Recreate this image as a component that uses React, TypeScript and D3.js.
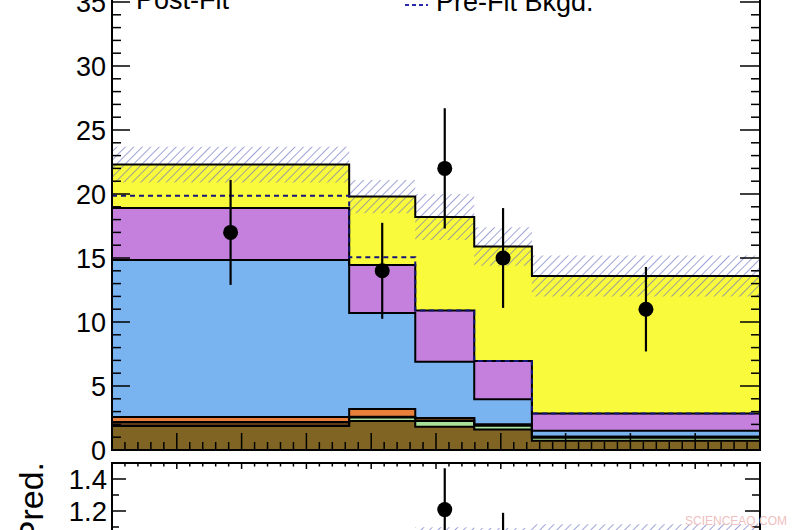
import React from 'react';
import * as d3 from 'd3';

// ---- data ----
const binEdges = [0, 3.66, 4.68, 5.59, 6.48, 10];
const brown = [1.88, 2.27, 1.82, 1.6, 0.73];
const green = [0.0, 0.26, 0.45, 0.3, 0.23];
const darkBrown = [0.31, 0.07, 0.23, 0.1, 0.08];
const orange = [0.39, 0.6, 0.0, 0.0, 0.0];
const blue = [12.26, 7.5, 4.4, 1.96, 0.47];
const purple = [4.06, 3.75, 4.0, 3.0, 1.34];
const yellow = [3.4, 5.35, 7.3, 8.94, 10.75];
const bkgUnc = [1.4, 1.3, 1.8, 1.5, 1.6];
const preFitBkg = [19.87, 15.05, 10.9, 6.96, 2.85];
const dataCounts = [17, 14, 22, 15, 11];
const dataErr = [4.1, 3.75, 4.7, 3.9, 3.3];
const yTicks = [0, 5, 10, 15, 20, 25, 30, 35];
const ratioTickLabels = ['1.4', '1.2'];

const layerKeys = ['brown', 'green', 'darkBrown', 'orange', 'blue', 'purple', 'yellow'];
const layerValues: Record<string, number[]> = { brown, green, darkBrown, orange, blue, purple, yellow };
const layerColors: Record<string, string> = {
  brown: '#806424',
  green: '#a8e29a',
  darkBrown: '#5a3a18',
  orange: '#e8803c',
  blue: '#7ab4f0',
  purple: '#c480dc',
  yellow: '#fafa3c',
};

const FONT = '"Liberation Sans", Arial, Helvetica, sans-serif';

export default function App() {
  const W = 800;
  const H = 530;
  const x = d3.scaleLinear().domain([0, 10]).range([112, 760]);
  const y = d3.scaleLinear().domain([0, 35]).range([450, 2]);
  const yr = d3.scaleLinear().domain([0.5, 1.5]).range([623, 463]);
  const nb = dataCounts.length;

  const rows = d3.range(nb).map((i) => {
    const r: Record<string, number> = {};
    layerKeys.forEach((k) => (r[k] = layerValues[k][i]));
    return r;
  });
  const stacked = d3.stack<Record<string, number>>().keys(layerKeys)(rows);
  const total = d3.range(nb).map((i) => stacked[stacked.length - 1][i][1]);

  const line = d3.line<[number, number]>();
  const stepPts = (vals: number[], ys: (v: number) => number) =>
    vals.flatMap((v, i) => [
      [x(binEdges[i]), ys(v)] as [number, number],
      [x(binEdges[i + 1]), ys(v)] as [number, number],
    ]);
  const stepPath = (vals: number[], ys: (v: number) => number) => line(stepPts(vals, ys)) || '';
  const areaPath = (lo: number[], hi: number[], ys: (v: number) => number) =>
    (line([...stepPts(hi, ys), ...stepPts(lo, ys).reverse()]) || '') + 'Z';

  const xMajor = d3.range(0, 10.001, 1);
  const xMinor = d3.range(0, 10.001, 0.2).filter((v) => Math.abs(v - Math.round(v)) > 1e-6);
  const yMinor = d3.range(0, 36.001, 1).filter((v) => v % 5 !== 0);
  const rMajor = [1.4, 1.2, 1.0];
  const rMinor = [1.5, 1.3, 1.1];

  const frameTop = y(38);
  const hiMain = total.map((t, i) => t + bkgUnc[i]);
  const loMain = total.map((t, i) => t - bkgUnc[i]);
  const hiRatio = total.map((t, i) => 1 + bkgUnc[i] / t);
  const loRatio = total.map((t, i) => 1 - bkgUnc[i] / t);

  return (
    <svg
      width={W}
      height={H}
      viewBox={`0 0 ${W} ${H}`}
      style={{ position: 'absolute', left: 0, top: 0, background: '#fff' }}
      fontFamily={FONT}
    >
      <defs>
        <pattern id="hatch" patternUnits="userSpaceOnUse" width="6" height="6" patternTransform="rotate(45)">
          <line x1="0" y1="-1" x2="0" y2="7" stroke="#6870c0" strokeWidth="1.5" strokeOpacity="0.85" />
        </pattern>
        <clipPath id="mainClip">
          <rect x={x(0)} y={frameTop} width={x(10) - x(0)} height={y(0) - frameTop} />
        </clipPath>
        <clipPath id="ratioClip">
          <rect x={x(0)} y={yr(1.5)} width={x(10) - x(0)} height={yr(0.5) - yr(1.5)} />
        </clipPath>
      </defs>
      <rect x={0} y={0} width={W} height={H} fill="#fff" />

      {/* ---------- main panel ---------- */}
      <g clipPath="url(#mainClip)">
        {stacked.map((layer) => (
          <path
            key={'f' + layer.key}
            d={areaPath(layer.map((d) => d[0]), layer.map((d) => d[1]), y)}
            fill={layerColors[layer.key]}
          />
        ))}
        {/* uncertainty hatch */}
        <path d={areaPath(loMain, hiMain, y)} fill="url(#hatch)" />
        {/* stack outlines */}
        {stacked.map((layer) => (
          <path
            key={'o' + layer.key}
            d={stepPath(layer.map((d) => d[1]), y)}
            fill="none"
            stroke="#000"
            strokeWidth={2}
          />
        ))}
        {/* pre-fit background */}
        <path d={stepPath(preFitBkg, y)} fill="none" stroke="#16167a" strokeWidth={2} strokeDasharray="5,4" />
        {/* data */}
        {dataCounts.map((n, i) => {
          const cx = x((binEdges[i] + binEdges[i + 1]) / 2);
          return (
            <g key={'d' + i}>
              <line x1={cx} x2={cx} y1={y(n + dataErr[i])} y2={y(n - dataErr[i])} stroke="#000" strokeWidth={2.2} />
              <circle cx={cx} cy={y(n)} r={7.5} fill="#000" />
            </g>
          );
        })}
      </g>
      {/* main axes ticks */}
      {xMajor.map((v) => (
        <line key={'xm' + v} x1={x(v)} x2={x(v)} y1={y(0)} y2={y(0) - 17} stroke="#000" strokeWidth={1.5} />
      ))}
      {xMinor.map((v) => (
        <line key={'xn' + v} x1={x(v)} x2={x(v)} y1={y(0)} y2={y(0) - 8} stroke="#000" strokeWidth={1.5} />
      ))}
      {yTicks.map((v) => (
        <g key={'ym' + v}>
          <line x1={x(0)} x2={x(0) + 18} y1={y(v)} y2={y(v)} stroke="#000" strokeWidth={1.5} />
          <line x1={x(10)} x2={x(10) - 20} y1={y(v)} y2={y(v)} stroke="#000" strokeWidth={1.5} />
          <text x={106} y={y(v)} dy="0.36em" textAnchor="end" fontSize={27} fill="#000">
            {v}
          </text>
        </g>
      ))}
      {yMinor.map((v) => (
        <g key={'yn' + v}>
          <line x1={x(0)} x2={x(0) + 9} y1={y(v)} y2={y(v)} stroke="#000" strokeWidth={1.5} />
          <line x1={x(10)} x2={x(10) - 9} y1={y(v)} y2={y(v)} stroke="#000" strokeWidth={1.5} />
        </g>
      ))}
      <rect x={x(0)} y={frameTop} width={x(10) - x(0)} height={y(0) - frameTop} fill="none" stroke="#000" strokeWidth={2} />

      {/* legend */}
      <text x={136} y={8.5} fontSize={27} fill="#000">Post-Fit</text>
      <line x1={405} x2={428} y1={5} y2={5} stroke="#2a2aa8" strokeWidth={2} strokeDasharray="4,3" />
      <text x={436} y={11} fontSize={27} fill="#000">Pre-Fit Bkgd.</text>

      {/* ---------- ratio panel ---------- */}
      <g clipPath="url(#ratioClip)">
        <path d={areaPath(loRatio, hiRatio, yr)} fill="url(#hatch)" />
        <line x1={x(0)} x2={x(10)} y1={yr(1)} y2={yr(1)} stroke="#000" strokeWidth={1.5} strokeDasharray="4,3" />
        {dataCounts.map((n, i) => {
          const cx = x((binEdges[i] + binEdges[i + 1]) / 2);
          const r = n / total[i];
          const e = dataErr[i] / total[i];
          return (
            <g key={'rd' + i}>
              <line x1={cx} x2={cx} y1={yr(r + e)} y2={yr(r - e)} stroke="#000" strokeWidth={2.2} />
              <circle cx={cx} cy={yr(r)} r={7.5} fill="#000" />
            </g>
          );
        })}
      </g>
      {xMajor.map((v) => (
        <line key={'rxm' + v} x1={x(v)} x2={x(v)} y1={yr(1.5)} y2={yr(1.5) + 6} stroke="#000" strokeWidth={1.5} />
      ))}
      {xMinor.map((v) => (
        <line key={'rxn' + v} x1={x(v)} x2={x(v)} y1={yr(1.5)} y2={yr(1.5) + 3.5} stroke="#000" strokeWidth={1.5} />
      ))}
      {rMajor.map((v) => (
        <g key={'rym' + v}>
          <line x1={x(0)} x2={x(0) + 14} y1={yr(v)} y2={yr(v)} stroke="#000" strokeWidth={1.5} />
          <line x1={x(10)} x2={x(10) - 15} y1={yr(v)} y2={yr(v)} stroke="#000" strokeWidth={1.5} />
        </g>
      ))}
      {rMinor.map((v) => (
        <g key={'ryn' + v}>
          <line x1={x(0)} x2={x(0) + 7} y1={yr(v)} y2={yr(v)} stroke="#000" strokeWidth={1.5} />
          <line x1={x(10)} x2={x(10) - 8} y1={yr(v)} y2={yr(v)} stroke="#000" strokeWidth={1.5} />
        </g>
      ))}
      {ratioTickLabels.map((s) => (
        <text key={'rl' + s} x={107} y={yr(+s)} dy="0.36em" textAnchor="end" fontSize={27.5} fill="#000">
          {s}
        </text>
      ))}
      <rect x={x(0)} y={yr(1.5)} width={x(10) - x(0)} height={yr(0.5) - yr(1.5)} fill="none" stroke="#000" strokeWidth={2} />
      <text transform={`translate(43, 462) rotate(-90)`} textAnchor="end" fontSize={34} fill="#000">
        Data/Pred.
      </text>
      <text x={787} y={525} textAnchor="end" fontSize={12} fill="#f0c0c0">
        SCIENCEAQ.COM
      </text>
    </svg>
  );
}
